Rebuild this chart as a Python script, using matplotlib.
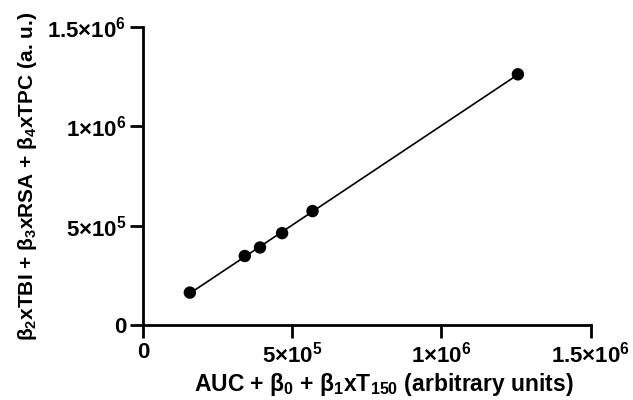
import numpy as np
import matplotlib
matplotlib.use("Agg")
import matplotlib.pyplot as plt

plt.rcParams['font.family'] = ['Liberation Sans', 'DejaVu Sans']
plt.rcParams['font.weight'] = 'bold'
plt.rcParams['mathtext.fontset'] = 'custom'
plt.rcParams['mathtext.rm'] = 'Liberation Sans:bold'
plt.rcParams['mathtext.it'] = 'Liberation Sans:bold'
plt.rcParams['mathtext.bf'] = 'Liberation Sans:bold'
plt.rcParams['mathtext.default'] = 'rm'

# Data
x_vals = [1.57e5, 3.41e5, 3.92e5, 4.66e5, 5.68e5, 1.256e6]
y_vals = [1.63e5, 3.47e5, 3.90e5, 4.62e5, 5.73e5, 1.261e6]
tick_vals = [0, 5e5, 1e6, 1.5e6]
tick_labels = ['0', '5×10$^{5}$', '1×10$^{6}$', '1.5×10$^{6}$']
xlabel = 'AUC + β$_{0}$ + β$_{1}$xT$_{150}$ (arbitrary units)'
ylabel = 'β$_{2}$xTBI + β$_{3}$xRSA + β$_{4}$xTPC (a. u.)'

fig = plt.figure(figsize=(6.33, 4.0), dpi=100)
ax = fig.add_axes([0.2259, 0.1875, 0.9332 - 0.2259, 0.933 - 0.1875])

x = np.array(x_vals)
y = np.array(y_vals)
m, b = np.polyfit(x, y, 1)
xl = np.array([x.min(), x.max()])
ax.plot(xl, m * xl + b, color='black', lw=1.2, zorder=2)
ax.scatter(x, y, s=80, color='black', zorder=3, edgecolors='none')

ax.set_xlim(0, 1.5e6)
ax.set_ylim(0, 1.5e6)
ax.set_xticks(tick_vals)
ax.set_xticklabels(tick_labels)
ax.set_yticks(tick_vals)
ax.set_yticklabels(tick_labels)

for s in ['top', 'right']:
    ax.spines[s].set_visible(False)
for s in ['left', 'bottom']:
    ax.spines[s].set_linewidth(2.0)
ax.tick_params(axis='both', length=9.5, width=2.0, labelsize=16, pad=2.5)
for lab in ax.get_xticklabels() + ax.get_yticklabels():
    lab.set_fontweight('bold')

ax.set_xlabel(xlabel, fontsize=16.5, fontweight='bold')
ax.xaxis.set_label_coords(0.537, -0.155)
ax.set_ylabel(ylabel, fontsize=15, fontweight='bold', labelpad=6)

fig.savefig('out.png', dpi=100)
